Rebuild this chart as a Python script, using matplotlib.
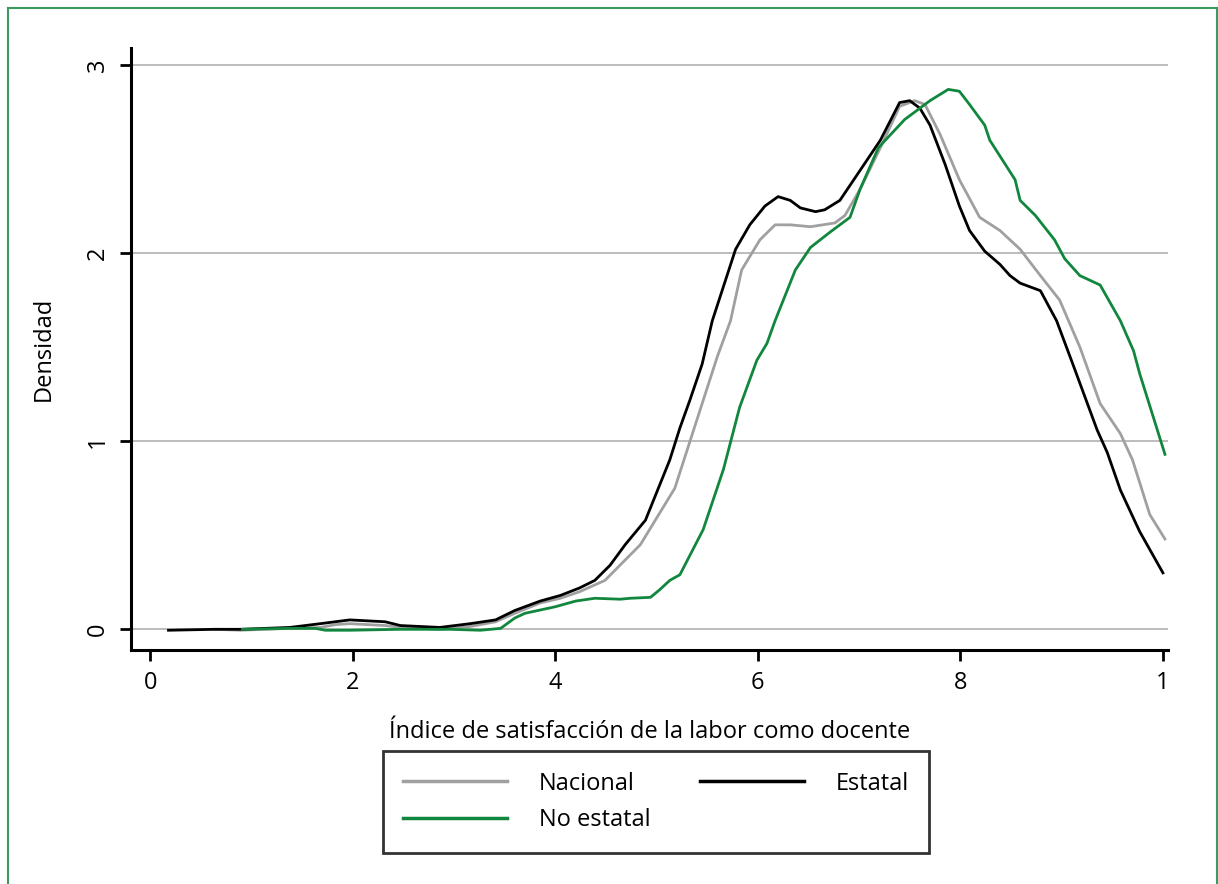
import matplotlib.pyplot as plt
from matplotlib.lines import Line2D

# Nacional (gris)
nac_x = [0.64, 0.89, 1.38, 1.68, 1.83, 1.97, 2.32, 2.47, 2.86, 3.16, 3.41, 3.60, 3.85, 4.05,
         4.24, 4.49, 4.84, 5.18, 5.33, 5.60, 5.73, 5.84, 6.02, 6.17, 6.32, 6.52, 6.76, 6.86,
         7.01, 7.21, 7.40, 7.55, 7.65, 7.80, 7.99, 8.19, 8.39, 8.59, 8.79, 8.98, 9.18, 9.38,
         9.58, 9.70, 9.87, 10.02]
nac_y = [0.0, -0.005, 0.005, 0.01, 0.025, 0.03, 0.02, 0.01, 0.0, 0.015, 0.04, 0.085, 0.14, 0.165,
         0.20, 0.26, 0.45, 0.75, 1.0, 1.45, 1.64, 1.91, 2.07, 2.15, 2.15, 2.14, 2.16, 2.20,
         2.34, 2.56, 2.78, 2.81, 2.79, 2.63, 2.39, 2.19, 2.12, 2.02, 1.88, 1.75, 1.50, 1.20,
         1.04, 0.90, 0.61, 0.48]

# Estatal (negro)
est_x = [0.18, 0.64, 0.89, 1.38, 1.68, 1.97, 2.32, 2.47, 2.86, 3.16, 3.41, 3.60, 3.85, 4.05,
         4.24, 4.39, 4.54, 4.69, 4.89, 5.13, 5.23, 5.33, 5.45, 5.55, 5.78, 5.92, 6.07, 6.20,
         6.32, 6.42, 6.57, 6.66, 6.81, 7.01, 7.21, 7.40, 7.50, 7.60, 7.70, 7.85, 7.99, 8.09,
         8.24, 8.39, 8.49, 8.59, 8.79, 8.95, 9.11, 9.35, 9.45, 9.58, 9.77, 10.0]
est_y = [-0.005, 0.0, 0.0, 0.01, 0.03, 0.05, 0.04, 0.02, 0.01, 0.03, 0.05, 0.10, 0.15, 0.18,
         0.22, 0.26, 0.34, 0.45, 0.58, 0.90, 1.07, 1.22, 1.41, 1.64, 2.02, 2.15, 2.25, 2.30,
         2.28, 2.24, 2.22, 2.23, 2.28, 2.44, 2.60, 2.80, 2.81, 2.77, 2.68, 2.47, 2.25, 2.12,
         2.01, 1.94, 1.88, 1.84, 1.80, 1.64, 1.41, 1.06, 0.94, 0.74, 0.52, 0.30]

# No estatal (verde)
noest_x = [0.91, 1.38, 1.63, 1.73, 1.97, 2.47, 2.96, 3.26, 3.46, 3.60, 3.70, 4.00, 4.20, 4.39,
           4.64, 4.74, 4.94, 5.03, 5.13, 5.23, 5.46, 5.66, 5.82, 5.99, 6.09, 6.17, 6.37, 6.52,
           6.71, 6.91, 7.01, 7.19, 7.45, 7.70, 7.88, 7.99, 8.09, 8.24, 8.29, 8.54, 8.59, 8.74,
           8.93, 9.03, 9.18, 9.38, 9.58, 9.71, 9.77, 10.02]
noest_y = [0.0, 0.005, 0.005, -0.005, -0.005, 0.0, 0.0, -0.005, 0.005, 0.06, 0.085, 0.12, 0.15, 0.165,
           0.16, 0.165, 0.17, 0.21, 0.26, 0.29, 0.53, 0.85, 1.18, 1.43, 1.52, 1.64, 1.91, 2.03,
           2.11, 2.19, 2.34, 2.56, 2.71, 2.81, 2.87, 2.86, 2.79, 2.68, 2.60, 2.39, 2.28, 2.20,
           2.07, 1.97, 1.88, 1.83, 1.64, 1.48, 1.36, 0.93]

x_ticks = [0, 2, 4, 6, 8, 10]
x_tick_labels = ["0", "2", "4", "6", "8", "1"]
y_ticks = [0, 1, 2, 3]

GRAY = "#a0a0a0"
GREEN = "#11873e"
FS = 17

plt.rcParams["font.family"] = ["Open Sans", "DejaVu Sans"]

fig = plt.figure(figsize=(12.18, 8.84), dpi=100)
ax = fig.add_axes([131 / 1218, 1 - 650 / 884, (1168 - 131) / 1218, (650 - 48) / 884])

ax.plot(nac_x, nac_y, color=GRAY, lw=2.0)
ax.plot(est_x, est_y, color="black", lw=2.0)
ax.plot(noest_x, noest_y, color=GREEN, lw=2.0)

ax.set_xlim(-0.19, 10.05)
ax.set_ylim(-0.11, 3.09)
ax.set_xticks(x_ticks)
ax.set_xticklabels(x_tick_labels)
ax.set_yticks(y_ticks)
ax.set_yticklabels([str(t) for t in y_ticks], rotation=90, va="center")
ax.tick_params(axis="both", labelsize=FS, width=2, length=8, direction="out", pad=7)
ax.yaxis.grid(True, color="#b0b0b0", lw=1.2)
ax.set_axisbelow(True)
for side in ["top", "right"]:
    ax.spines[side].set_visible(False)
for side in ["left", "bottom"]:
    ax.spines[side].set_linewidth(2.2)

ax.set_xlabel("Índice de satisfacción de la labor como docente", fontsize=FS, labelpad=18)
ax.set_ylabel("Densidad", fontsize=FS, labelpad=22)

handles = [Line2D([], [], color=GRAY, lw=2.5),
           Line2D([], [], color=GREEN, lw=2.5),
           Line2D([], [], color="black", lw=2.5)]
labels = ["Nacional", "No estatal", "Estatal"]
leg = fig.legend(handles, labels, ncol=2, loc="center", bbox_to_anchor=(656 / 1218, 1 - 802 / 884),
                 fontsize=FS, frameon=True, fancybox=False, handlelength=4.4, handletextpad=1.35,
                 columnspacing=2.1, borderpad=0.85, labelspacing=0.55)
leg.get_frame().set_edgecolor("black")
leg.get_frame().set_linewidth(2)

# marco verde
border_kw = dict(color="#3c9a5f", lw=1.5, transform=fig.transFigure)
fig.add_artist(Line2D([8 / 1218, 8 / 1218], [0, 1 - 8 / 884], **border_kw))
fig.add_artist(Line2D([8 / 1218, 1217 / 1218], [1 - 8 / 884, 1 - 8 / 884], **border_kw))
fig.add_artist(Line2D([1217 / 1218, 1217 / 1218], [0, 1 - 8 / 884], **border_kw))

fig.savefig("out.png", dpi=100)
